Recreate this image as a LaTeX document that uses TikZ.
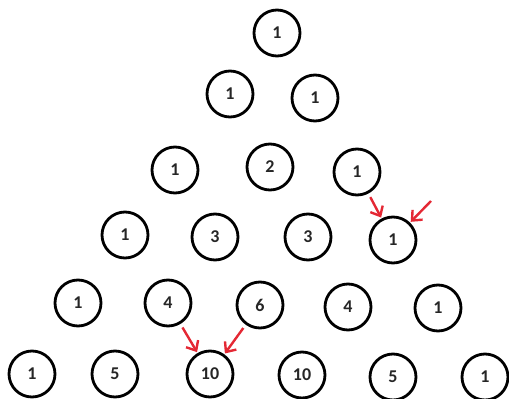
\documentclass[tikz,border=0pt]{standalone}
\usepackage{fontspec}
\setmainfont{Carlito}
\usetikzlibrary{arrows.meta}
\definecolor{arrowred}{RGB}{228,40,52}
\begin{document}
\begin{tikzpicture}[x=1pt,y=-1pt,
  num/.style={circle,draw=black,line width=2.8pt,minimum size=46pt,inner sep=0pt,
    font=\fontsize{18}{18}\selectfont\bfseries, text=black!85},
  redarrow/.style={draw=arrowred,line width=2.4pt,
    -{Straight Barb[length=8pt,width=14pt,line width=2.4pt]},shorten <=4pt,shorten >=1pt}]
\useasboundingbox (0,0) rectangle (509,399);
% row 0
\node[num] (r0a) at (277,33) {1};
% row 1
\node[num] (r1a) at (230,94) {1};
\node[num] (r1b) at (315,98) {1};
% row 2
\node[num] (r2a) at (175,170) {1};
\node[num] (r2b) at (270,167) {2};
\node[num] (r2c) at (357,172) {1};
% row 3
\node[num] (r3a) at (125,235) {1};
\node[num] (r3b) at (215,237) {3};
\node[num] (r3c) at (308,237) {3};
\node[num] (r3d) at (393,240) {1};
% row 4
\node[num] (r4a) at (78,303) {1};
\node[num] (r4b) at (168,303) {4};
\node[num] (r4c) at (260,305) {6};
\node[num] (r4d) at (348,307) {4};
\node[num] (r4e) at (438,308) {1};
% row 5
\node[num] (r5a) at (32,374) {1};
\node[num] (r5b) at (115,374) {5};
\node[num] (r5c) at (210,374) {10};
\node[num] (r5d) at (302,375) {10};
\node[num] (r5e) at (393,377) {5};
\node[num] (r5f) at (485,377) {1};
% arrows
\coordinate (fr) at (431,201);
\draw[redarrow] (r2c) -- (r3d);
\draw[redarrow,shorten <=0pt] (fr) -- (r3d);
\draw[redarrow] (r4b) -- (r5c);
\draw[redarrow] (r4c) -- (r5c);
\end{tikzpicture}
\end{document}
